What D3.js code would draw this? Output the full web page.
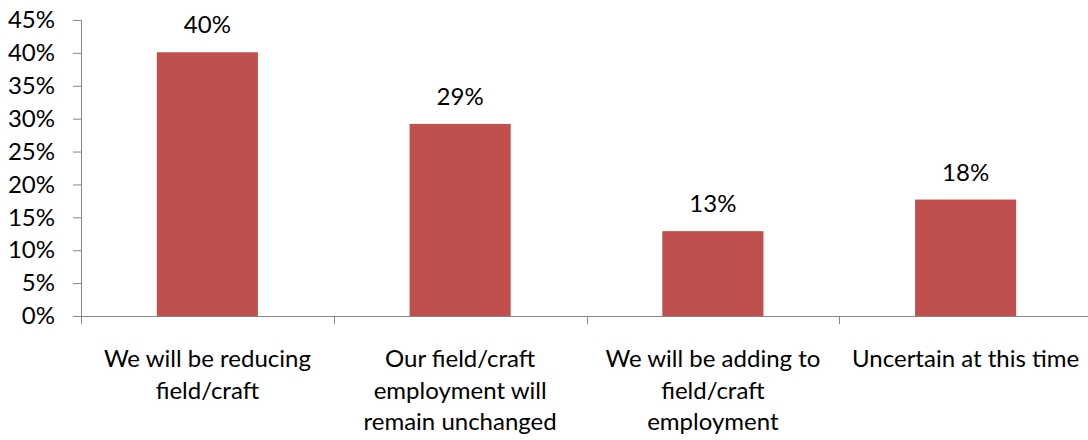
<!DOCTYPE html>
<html>
<head>
    <meta charset="UTF-8" />
    <title>Field/craft employment</title>
    <script src="https://d3js.org/d3.v7.min.js"></script>
    <style>
        body { margin: 0; background: #fff; }
        svg text { font-family: Lato, "Open Sans", sans-serif; fill: #000; }
        .axis .domain, .axis line { stroke: #868686; stroke-width: 1; }
        .axis text { font-size: 24px; }
        .value-label { font-size: 24px; }
        .cat-label { font-size: 24px; }
    </style>
</head>
<body>
    <svg id="svg" width="1088" height="440"></svg>

    <script>
        // chart data
        const categories = ["reducing", "unchanged", "adding", "uncertain"];
        const values = [40.1, 29.2, 12.9, 17.7];
        const valueLabels = ["40%", "29%", "13%", "18%"];
        const categoryLines = [
            ["We will be reducing", "field/craft"],
            ["Our field/craft", "employment will", "remain unchanged"],
            ["We will be adding to", "field/craft", "employment"],
            ["Uncertain at this time"]
        ];
        const yTicks = [0, 5, 10, 15, 20, 25, 30, 35, 40, 45];

        const svg = d3.select("svg#svg");
        const margin = {top: 20, right: -4, bottom: 124, left: 81};
        const width = +svg.attr("width");
        const height = +svg.attr("height");
        const chartWidth = width - margin.left - margin.right;
        const chartHeight = height - margin.top - margin.bottom;

        const chart = svg.append("g")
            .attr("transform", "translate(" + margin.left + "," + margin.top + ")");

        const xScale = d3.scaleBand()
            .domain(categories)
            .range([0, chartWidth])
            .paddingInner(0.6)
            .paddingOuter(0.3);

        const yScale = d3.scaleLinear()
            .domain([0, 45])
            .range([chartHeight, 0]);

        // y axis
        const leftAxis = d3.axisLeft(yScale)
            .tickValues(yTicks)
            .tickSize(8)
            .tickPadding(18)
            .tickFormat(d => d + "%");
        chart.append("g")
            .attr("class", "axis y")
            .call(leftAxis)
            .call(g => g.select(".domain").attr("d", "M0.5,0V" + (chartHeight + 8)));

        // x axis: ticks at category boundaries
        const step = xScale.step();
        const boundaries = d3.range(categories.length + 1).map(i => i * step);
        const xAxisG = chart.append("g")
            .attr("class", "axis x")
            .attr("transform", "translate(0," + chartHeight + ")");
        xAxisG.append("path")
            .attr("class", "domain")
            .attr("fill", "none")
            .attr("d", "M-8,0.5H" + chartWidth);
        xAxisG.selectAll("line.tick")
            .data(boundaries.slice(1))
            .join("line")
            .attr("class", "tick")
            .attr("x1", d => Math.round(d) + 0.5)
            .attr("x2", d => Math.round(d) + 0.5)
            .attr("y1", 0)
            .attr("y2", 8);

        // bars
        chart.selectAll("rect.bar")
            .data(values)
            .join("rect")
            .attr("class", "bar")
            .attr("fill", "#C0504D")
            .attr("x", (d, i) => xScale(categories[i]))
            .attr("width", xScale.bandwidth())
            .attr("y", d => yScale(d))
            .attr("height", d => chartHeight - yScale(d));

        // value labels
        chart.selectAll("text.value-label")
            .data(values)
            .join("text")
            .attr("class", "value-label")
            .attr("text-anchor", "middle")
            .attr("x", (d, i) => xScale(categories[i]) + xScale.bandwidth() / 2)
            .attr("y", d => yScale(d) - 19)
            .text((d, i) => valueLabels[i]);

        // category labels
        const catLabels = chart.selectAll("text.cat-label")
            .data(categories)
            .join("text")
            .attr("class", "cat-label")
            .attr("text-anchor", "middle")
            .attr("x", d => xScale(d) + xScale.bandwidth() / 2)
            .attr("y", chartHeight + 51);

        catLabels.selectAll("tspan")
            .data((d, i) => categoryLines[i].map(line => ({line, x: xScale(d) + xScale.bandwidth() / 2})))
            .join("tspan")
            .attr("x", d => d.x)
            .attr("dy", (d, i) => i === 0 ? 0 : 31.5)
            .text(d => d.line);
    </script>
</body>
</html>
